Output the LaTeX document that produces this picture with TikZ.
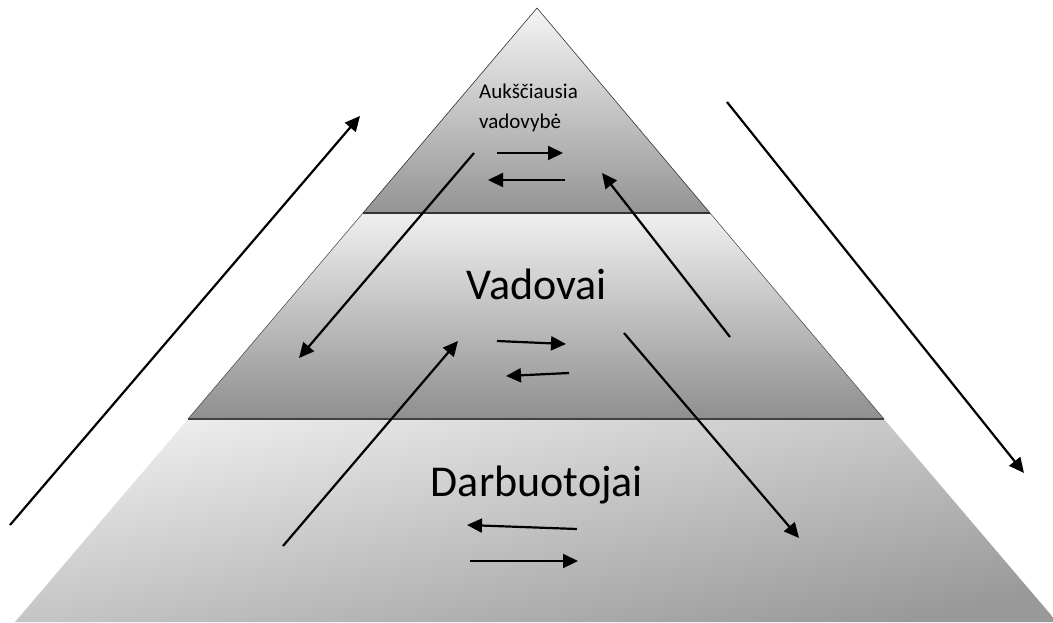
\documentclass[tikz,border=0pt]{standalone}
\usepackage{fontspec}
\setmainfont{Carlito}
\usetikzlibrary{arrows.meta}
\begin{document}
\begin{tikzpicture}[x=1pt,y=-1pt,
  arr/.style={line width=2.2pt,-{Triangle[length=15pt,width=14pt]}},
  big/.style={font=\fontsize{44}{52}\selectfont, inner sep=0pt},
  small/.style={font=\fontsize{21}{25}\selectfont, inner sep=0pt},
  edge/.style={draw=black!80, line width=0.6pt}]
\useasboundingbox (0,0) rectangle (1053,622);

% bottom band
\shade[top color=black!7, bottom color=black!40, shading angle=12]
  (188,419) -- (884,419) -- (1057,622) -- (15,622) -- cycle;
% middle band
\shade[top color=black!6, bottom color=black!44]
  (363,213) -- (710,213) -- (884,419) -- (188,419) -- cycle;
\draw[draw=black!75, line width=0.5pt] (363,213) -- (188,419);
\draw[draw=black!75, line width=0.5pt] (710,213) -- (884,419);
% top band
\shade[top color=black!4, bottom color=black!42]
  (537,8) -- (710,213) -- (363,213) -- cycle;
\draw[edge] (363,213) -- (537,8) -- (710,213);
% divider lines
\draw[draw=black!80, line width=1.4pt] (363,213) -- (710,213);
\draw[draw=black!75, line width=1.3pt] (188,419) -- (884,419);

% labels
\node[small, anchor=base west] (top1) at (479,98) {Aukščiausia};
\node[small, anchor=base west] (top2) at (479,128) {vadovybė};
\node[big, anchor=base] (mid) at (537,299) {Vadovai};
\node[big, anchor=base] (low) at (537,496) {Darbuotojai};

% arrow end points
\coordinate (lA) at (10,525);   \coordinate (lB) at (360,116);
\coordinate (rA) at (727,102);  \coordinate (rB) at (1024,473);
\coordinate (t1A) at (497,153); \coordinate (t1B) at (563,153);
\coordinate (t2A) at (565,180); \coordinate (t2B) at (488,180);
\coordinate (dA) at (474,153);  \coordinate (dB) at (299,358);
\coordinate (uA) at (730,337);  \coordinate (uB) at (602,173);
\coordinate (m1A) at (497,341); \coordinate (m1B) at (566,344);
\coordinate (m2A) at (569,373); \coordinate (m2B) at (506,376);
\coordinate (u2A) at (283,546); \coordinate (u2B) at (458,341);
\coordinate (d2A) at (624,333); \coordinate (d2B) at (799,538);
\coordinate (b1A) at (577,529); \coordinate (b1B) at (467,525);
\coordinate (b2A) at (470,561); \coordinate (b2B) at (578,561);

\draw[arr] (lA) -- (lB);
\draw[arr] (rA) -- (rB);
\draw[arr] (t1A) -- (t1B);
\draw[arr] (t2A) -- (t2B);
\draw[arr] (dA) -- (dB);
\draw[arr] (uA) -- (uB);
\draw[arr] (m1A) -- (m1B);
\draw[arr] (m2A) -- (m2B);
\draw[arr] (u2A) -- (u2B);
\draw[arr] (d2A) -- (d2B);
\draw[arr] (b1A) -- (b1B);
\draw[arr] (b2A) -- (b2B);
\end{tikzpicture}
\end{document}
